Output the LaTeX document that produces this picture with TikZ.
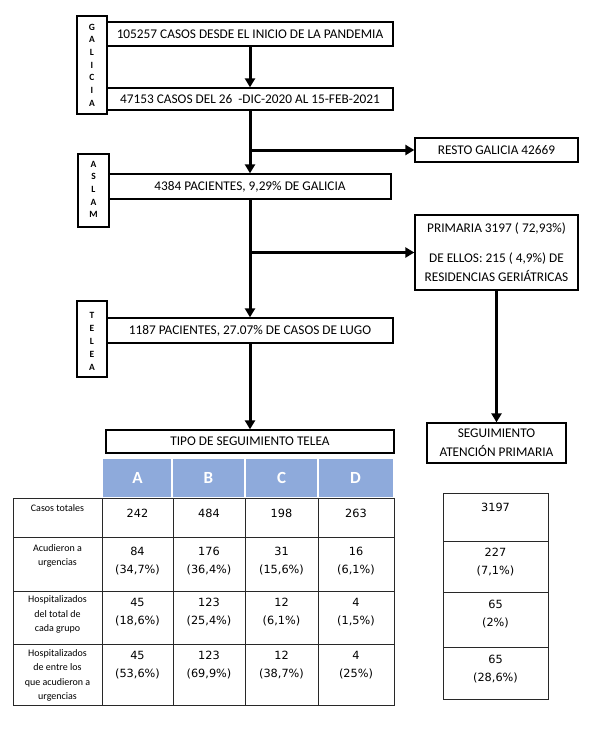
\documentclass[tikz,border=0pt]{standalone}
\usepackage{fontspec}
\setmainfont{Carlito}
\newfontfamily\numfont{DejaVu Sans}
\usetikzlibrary{arrows.meta}
\definecolor{hdrblue}{RGB}{142,170,219}
\definecolor{tline}{RGB}{40,40,40}
\begin{document}
\begin{tikzpicture}[x=1pt,y=-1pt,
  box/.style={draw, line width=1.3pt, inner sep=0pt, font=\fontsize{13.3}{19}\selectfont, align=center},
  side/.style={draw, line width=1.3pt, inner sep=0pt},
  sidetxt/.style={inner sep=0pt, align=center, font=\bfseries\fontsize{9.5}{#1}\selectfont},
  arr/.style={line width=3pt, -{Triangle[width=10pt,length=9pt]}},
  hdr/.style={inner sep=0pt, text=white, font=\fontsize{17}{17}\selectfont\bfseries},
  lbl/.style={inner sep=0pt, align=center, font=\fontsize{10}{14.5}\selectfont},
  num/.style={inner sep=0pt, align=center, font=\numfont\fontsize{11.3}{18}\selectfont},
  tl/.style={draw=tline, line width=0.9pt}
]
\useasboundingbox (0,0) rectangle (592,739);
\fill[white] (0,0) rectangle (592,739);

% side boxes
\node[side, minimum width=30pt, minimum height=98pt] (galicia) at (92,65) {};
\node[sidetxt=12.7] (galiciat) at (galicia.center) {G\\A\\L\\I\\C\\I\\A};
\node[side, minimum width=31pt, minimum height=73pt] (aslam) at (93.5,190.5) {};
\node[sidetxt=12.7] (aslamt) at ([yshift=1pt]aslam.center) {A\\S\\L\\A\\M};
\node[side, minimum width=30pt, minimum height=76pt] (telea) at (92,339) {};
\node[sidetxt=13] (teleat) at ([yshift=-2pt]telea.center) {T\\E\\L\\E\\A};

% main boxes
\node[box, minimum width=286pt, minimum height=24pt] (b1) at (250,34) {105257 CASOS DESDE EL INICIO DE LA PANDEMIA};
\node[box, minimum width=286pt, minimum height=22pt] (b2) at (250,99) {47153 CASOS DEL 26\ \ -DIC-2020 AL 15-FEB-2021};
\node[box, minimum width=163pt, minimum height=24pt] (resto) at (496.5,150) {RESTO GALICIA 42669};
\node[box, minimum width=282pt, minimum height=25pt] (b3) at (250,186.5) {4384 PACIENTES, 9,29\% DE GALICIA};
\node[box, minimum width=163pt, minimum height=75pt] (prim) at (496.5,252.5) {PRIMARIA 3197 ( 72,93\%)\\[11pt]DE ELLOS: 215 ( 4,9\%) DE\\RESIDENCIAS GERIÁTRICAS};
\node[box, minimum width=286pt, minimum height=25pt] (b4) at (250,330.5) {1187 PACIENTES, 27.07\% DE CASOS DE LUGO};
\node[box, minimum width=288pt, minimum height=23pt] (tipo) at (250,441.5) {TIPO DE SEGUIMIENTO TELEA};
\node[box, minimum width=139pt, minimum height=40pt] (seg) at (496.5,443) {SEGUIMIENTO\\ATENCIÓN PRIMARIA};

% connectors
\draw[arr] (b1.south) -- (b2.north);
\draw[arr] (b2.south) -- (b3.north);
\draw[arr] (b2.south |- resto.west) -- (resto.west);
\draw[arr] (b3.south) -- (b4.north);
\draw[arr] (b3.south |- prim.west) -- (prim.west);
\draw[arr] (b4.south) -- (tipo.north);
\draw[arr] (prim.south) -- (seg.north);

% table header
\fill[hdrblue] (103,459) rectangle (393,497);
\draw[white, line width=1.5pt] (172,459) -- (172,497) (245,459) -- (245,497) (318,459) -- (318,497);
\node[hdr] (hA) at (137.5,478) {A};
\node[hdr] (hB) at (208.5,478) {B};
\node[hdr] (hC) at (281.5,478) {C};
\node[hdr] (hD) at (355.5,478) {D};

% left table grid
\draw[tl] (13,498) rectangle (394,705);
\draw[tl] (13,537) -- (394,537) (13,591) -- (394,591) (13,644) -- (394,644);
\draw[tl] (102,498) -- (102,705) (173,498) -- (173,705) (245,498) -- (245,705) (318,498) -- (318,705);

% labels
\node[lbl] (l1) at (57.5,508) {Casos totales};
\node[lbl] (l2) at (57.5,556) {Acudieron a\\urgencias};
\node[lbl] (l3) at (57.5,614.5) {Hospitalizados\\del total de\\cada grupo};
\node[lbl] (l4) at (57.5,675.5) {Hospitalizados\\de entre los\\que acudieron a\\urgencias};

% row 1
\node[num] (a1) at (137.5,513) {242};
\node[num] (b1n) at (209,513) {484};
\node[num] (c1) at (281.5,513) {198};
\node[num] (d1) at (356,513) {263};
% row 2
\node[num] (a2) at (137.5,561) {84\\(34,7\%)};
\node[num] (b2n) at (209,561) {176\\(36,4\%)};
\node[num] (c2) at (281.5,561) {31\\(15,6\%)};
\node[num] (d2) at (356,561) {16\\(6,1\%)};
% row 3
\node[num] (a3) at (137.5,612.5) {45\\(18,6\%)};
\node[num] (b3n) at (209,612.5) {123\\(25,4\%)};
\node[num] (c3) at (281.5,612.5) {12\\(6,1\%)};
\node[num] (d3) at (356,612.5) {4\\(1,5\%)};
% row 4
\node[num] (a4) at (137.5,665.5) {45\\(53,6\%)};
\node[num] (b4n) at (209,665.5) {123\\(69,9\%)};
\node[num] (c4) at (281.5,665.5) {12\\(38,7\%)};
\node[num] (d4) at (356,665.5) {4\\(25\%)};

% right table
\draw[tl] (443,493) rectangle (548,699);
\draw[tl] (443,541) -- (548,541) (443,592) -- (548,592) (443,647) -- (548,647);
\node[num] (r1) at (495.5,507) {3197};
\node[num] (r2) at (495.5,562) {227\\(7,1\%)};
\node[num] (r3) at (495.5,614.5) {65\\(2\%)};
\node[num] (r4) at (495.5,669) {65\\(28,6\%)};
\end{tikzpicture}
\end{document}
